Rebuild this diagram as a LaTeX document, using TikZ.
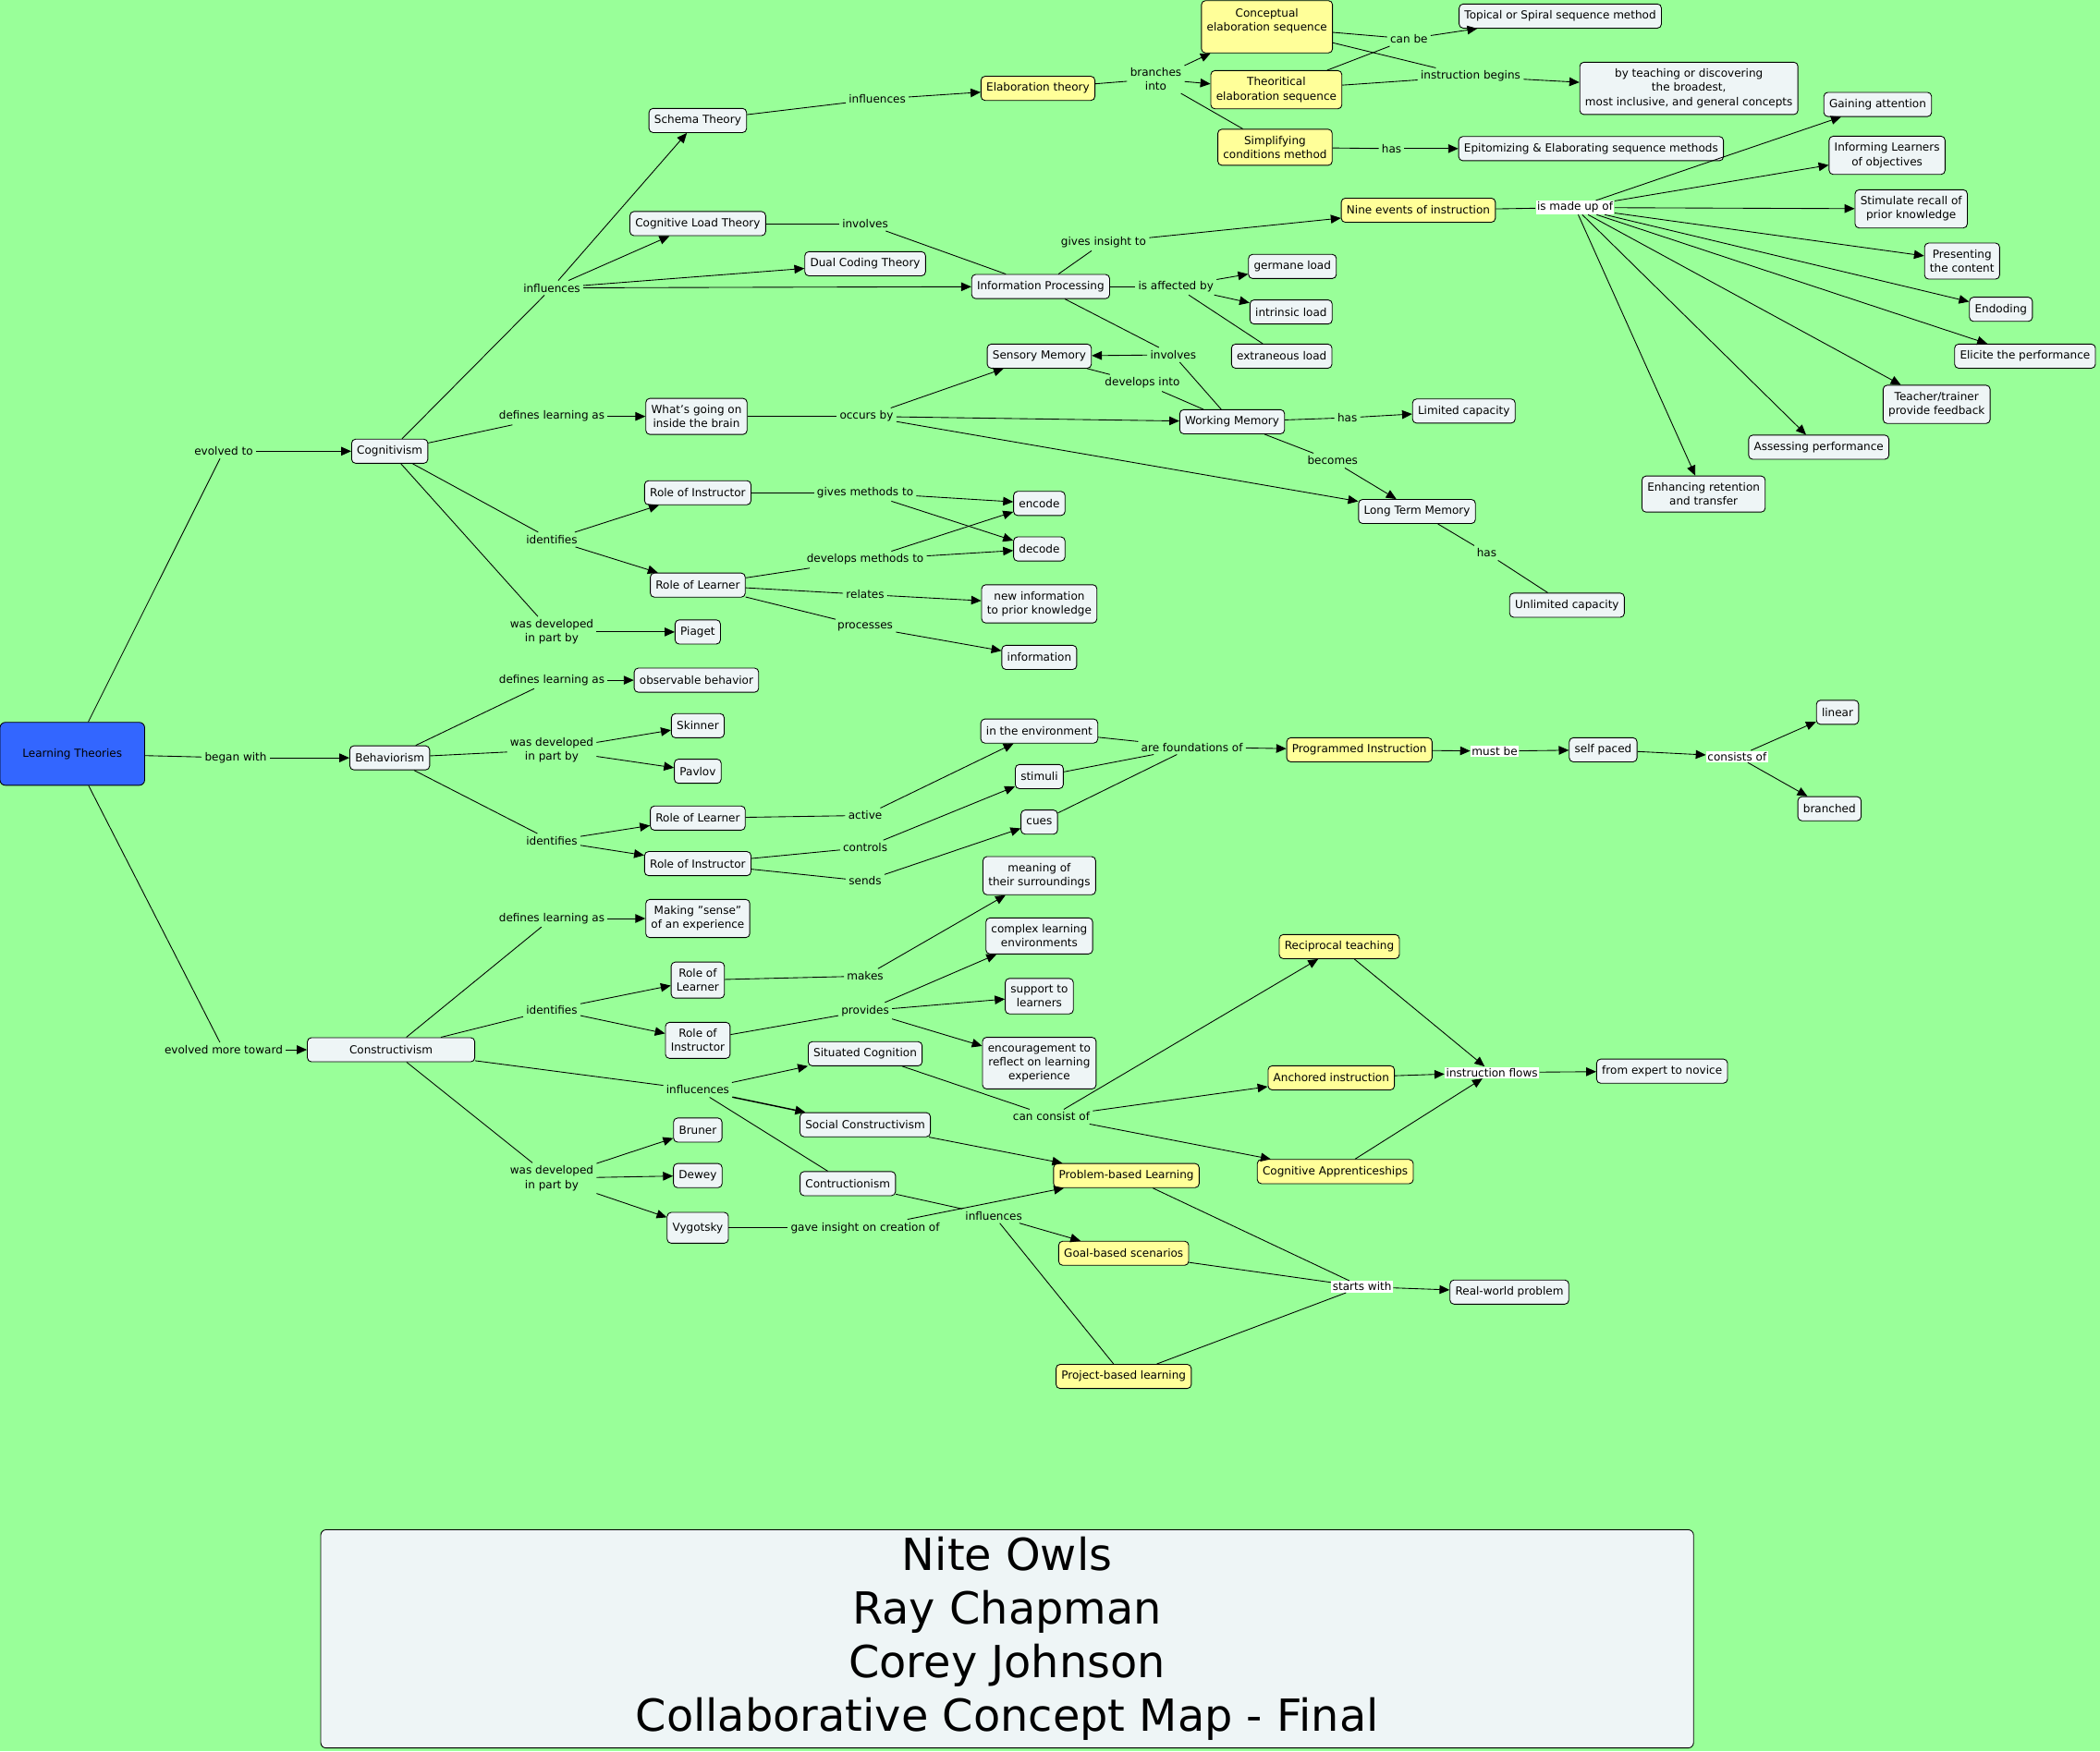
\documentclass[tikz,border=0pt]{standalone}
\usepackage{fontspec}
\setmainfont{DejaVu Sans}
\usetikzlibrary{arrows.meta}
\definecolor{cmapgreen}{RGB}{153,255,153}
\definecolor{cmapnode}{RGB}{238,245,246}
\definecolor{cmapyellow}{RGB}{255,255,153}
\definecolor{cmapblue}{RGB}{51,102,255}
\begin{document}
\begin{tikzpicture}[
    x=1pt, y=-1pt,
    line width=0.6pt,
    font=\fontsize{8.3}{10.5}\selectfont,
    concept/.style={rectangle, draw, rounded corners=3pt, fill=cmapnode, minimum height=18pt, inner xsep=4pt, inner ysep=5pt, align=center},
    keyconcept/.style={concept, fill=cmapyellow},
    phrase/.style={inner sep=2pt, align=center},
    whitephrase/.style={phrase, fill=white, inner sep=1pt},
    arrow/.style={-{Triangle[length=7.5pt, width=6.5pt]}}
]
    % Canvas
    \useasboundingbox (0,0) rectangle (1568,1308);
    \fill[cmapgreen] (0,0) rectangle (1568,1308);

    % Root and the three branches
    \node[concept, fill=cmapblue, minimum width=108pt, minimum height=47pt, rounded corners=4pt] (lt) at (54,563) {Learning Theories};
    \node[concept] (cog) at (291,337) {Cognitivism};
    \node[concept] (beh) at (291,566) {Behaviorism};
    \node[concept, minimum width=125pt] (con) at (292,784) {Constructivism};
    \node[phrase] (evto) at (167,337) {evolved to};
    \node[phrase] (began) at (176,566) {began with};
    \node[phrase] (evmore) at (167,784) {evolved more toward};

    % Cognitivism: theories
    \node[concept] (schema) at (521,90) {Schema Theory};
    \node[concept] (clt) at (521,167) {Cognitive Load Theory};
    \node[concept] (dual) at (646,197) {Dual Coding Theory};
    \node[concept] (infop) at (777,214) {Information Processing};
    \node[phrase] (cinfl) at (412,215) {influences};
    \node[phrase] (sinfl) at (655,74) {influences};
    \node[phrase] (cinv) at (646,167) {involves};

    % Elaboration theory
    \node[keyconcept] (elab) at (775,66) {Elaboration theory};
    \node[keyconcept, minimum height=39pt] (concseq) at (946,20) {Conceptual\\elaboration sequence\\~};
    \node[keyconcept] (theoseq) at (953,67) {Theoritical\\elaboration sequence};
    \node[keyconcept] (simpl) at (952,110) {Simplifying\\conditions method};
    \node[concept] (topical) at (1165,12) {Topical or Spiral sequence method};
    \node[concept] (broad) at (1261,66) {by teaching or discovering\\the broadest,\\most inclusive, and general concepts};
    \node[concept] (epit) at (1188,111) {Epitomizing \& Elaborating sequence methods};
    \node[phrase] (branch) at (863,59) {branches\\into};
    \node[phrase] (canbe) at (1052,29) {can be};
    \node[phrase] (begins) at (1098,57) {instruction begins};
    \node[phrase] (shas) at (1039,111) {has};

    % Nine events of instruction
    \node[keyconcept] (nine) at (1059,157) {Nine events of instruction};
    \node[whitephrase] (madeup) at (1176,155) {is made up of};
    \node[concept] (ev1) at (1402,78) {Gaining attention};
    \node[concept] (ev2) at (1409,116) {Informing Learners\\of objectives};
    \node[concept] (ev3) at (1427,156) {Stimulate recall of\\prior knowledge};
    \node[concept] (ev4) at (1465,195) {Presenting\\the content};
    \node[concept] (ev5) at (1494,231) {Endoding};
    \node[concept] (ev6) at (1512,266) {Elicite the performance};
    \node[concept] (ev7) at (1446,302) {Teacher/trainer\\provide feedback};
    \node[concept] (ev8) at (1358,334) {Assessing performance};
    \node[concept] (ev9) at (1272,369) {Enhancing retention\\and transfer};
    \node[phrase] (insight) at (824,181) {gives insight to};

    % Cognitive load and memory
    \node[concept] (germane) at (965,199) {germane load};
    \node[concept] (intrinsic) at (964,233) {intrinsic load};
    \node[concept] (extran) at (957,266) {extraneous load};
    \node[phrase] (affect) at (878,214) {is affected by};
    \node[concept] (brain) at (520,311) {What's going on\\inside the brain};
    \node[concept] (sensory) at (776,266) {Sensory Memory};
    \node[concept] (wm) at (920,315) {Working Memory};
    \node[concept] (limited) at (1093,307) {Limited capacity};
    \node[concept] (ltm) at (1058,382) {Long Term Memory};
    \node[concept] (unlimited) at (1170,452) {Unlimited capacity};
    \node[phrase] (cdef) at (412,311) {defines learning as};
    \node[phrase] (occurs) at (647,311) {occurs by};
    \node[phrase] (minv) at (876,265) {involves};
    \node[phrase] (devinto) at (853,286) {develops into};
    \node[phrase] (whas) at (1006,312) {has};
    \node[phrase] (becomes) at (995,344) {becomes};
    \node[phrase] (lhas) at (1110,413) {has};

    % Cognitivism: roles
    \node[phrase] (cident) at (412,403) {identifies};
    \node[phrase] (cdev) at (412,472) {was developed\\in part by};
    \node[concept] (cinstr) at (521,368) {Role of Instructor};
    \node[concept] (clearn) at (521,437) {Role of Learner};
    \node[concept] (piaget) at (521,472) {Piaget};
    \node[concept] (encode) at (776,376) {encode};
    \node[concept] (decode) at (776,410) {decode};
    \node[concept] (newinfo) at (776,451) {new information\\to prior knowledge};
    \node[concept] (info) at (776,491) {information};
    \node[phrase] (gives) at (646,368) {gives methods to};
    \node[phrase] (develops) at (646,418) {develops methods to};
    \node[phrase] (relates) at (646,444) {relates};
    \node[phrase] (processes) at (646,468) {processes};

    % Behaviorism
    \node[phrase] (bdef) at (412,508) {defines learning as};
    \node[phrase] (bdev) at (412,560) {was developed\\in part by};
    \node[phrase] (bident) at (412,628) {identifies};
    \node[concept] (observ) at (520,508) {observable behavior};
    \node[concept] (skinner) at (521,542) {Skinner};
    \node[concept] (pavlov) at (521,576) {Pavlov};
    \node[concept] (blearn) at (521,611) {Role of Learner};
    \node[concept] (binstr) at (521,645) {Role of Instructor};
    \node[phrase] (active) at (646,609) {active};
    \node[phrase] (controls) at (646,633) {controls};
    \node[phrase] (sends) at (646,658) {sends};
    \node[concept] (env) at (776,546) {in the environment};
    \node[concept] (stimuli) at (776,580) {stimuli};
    \node[concept] (cues) at (776,614) {cues};
    \node[phrase] (found) at (890,558) {are foundations of};
    \node[keyconcept] (prog) at (1015,560) {Programmed Instruction};
    \node[whitephrase] (mustbe) at (1116,561) {must be};
    \node[concept] (selfp) at (1197,560) {self paced};
    \node[whitephrase] (consists) at (1297,565) {consists of};
    \node[concept] (linear) at (1372,532) {linear};
    \node[concept] (branched) at (1366,604) {branched};

    % Constructivism
    \node[phrase] (kdef) at (412,686) {defines learning as};
    \node[phrase] (kident) at (412,754) {identifies};
    \node[phrase] (kinfl) at (521,814) {influcences};
    \node[phrase] (kdev) at (412,880) {was developed\\in part by};
    \node[concept] (sense) at (521,686) {Making "sense"\\of an experience};
    \node[concept] (klearn) at (521,732) {Role of\\Learner};
    \node[concept] (kinstr) at (521,777) {Role of\\Instructor};
    \node[phrase] (makes) at (646,729) {makes};
    \node[phrase] (provides) at (646,755) {provides};
    \node[concept] (meaning) at (776,654) {meaning of\\their surroundings};
    \node[concept] (complex) at (776,699) {complex learning\\environments};
    \node[concept] (support) at (776,744) {support to\\learners};
    \node[concept] (encour) at (776,794) {encouragement to\\reflect on learning\\experience};
    \node[concept] (situated) at (646,787) {Situated Cognition};
    \node[concept] (social) at (646,840) {Social Constructivism};
    \node[concept] (contr) at (633,884) {Contructionism};
    \node[concept] (bruner) at (521,844) {Bruner};
    \node[concept] (dewey) at (521,878) {Dewey};
    \node[concept, minimum height=23pt] (vygotsky) at (521,917) {Vygotsky};
    \node[phrase] (consist) at (785,834) {can consist of};
    \node[keyconcept] (recip) at (1000,707) {Reciprocal teaching};
    \node[keyconcept] (anchored) at (994,805) {Anchored instruction};
    \node[keyconcept] (apprent) at (997,875) {Cognitive Apprenticeships};
    \node[whitephrase] (flows) at (1114,801) {instruction flows};
    \node[concept] (expert) at (1241,800) {from expert to novice};
    \node[phrase] (gave) at (646,917) {gave insight on creation of};
    \node[phrase] (kinfl2) at (742,908) {influences};
    \node[keyconcept] (pbl) at (841,878) {Problem-based Learning};
    \node[keyconcept] (goal) at (839,936) {Goal-based scenarios};
    \node[keyconcept] (project) at (839,1028) {Project-based learning};
    \node[whitephrase] (starts) at (1017,961) {starts with};
    \node[concept] (real) at (1127,965) {Real-world problem};

    % Root links
    \draw (lt) -- (evto);
    \draw[arrow] (evto) -- (cog);
    \draw (lt) -- (began);
    \draw[arrow] (began) -- (beh);
    \draw (lt) -- (evmore);
    \draw[arrow] (evmore) -- (con);

    % Cognitivism links
    \draw (cog) -- (cinfl);
    \draw[arrow] (cinfl) -- (schema);
    \draw[arrow] (cinfl) -- (clt);
    \draw[arrow] (cinfl) -- (dual);
    \draw[arrow] (cinfl) -- (infop);
    \draw (schema) -- (sinfl);
    \draw[arrow] (sinfl) -- (elab);
    \draw (clt) -- (cinv);
    \draw (cinv) -- (infop);
    \draw (elab) -- (branch);
    \draw[arrow] (branch) -- (concseq);
    \draw[arrow] (branch) -- (theoseq);
    \draw (branch) -- (simpl);
    \draw (concseq) -- (canbe);
    \draw (theoseq) -- (canbe);
    \draw[arrow] (canbe) -- (topical);
    \draw (concseq) -- (begins);
    \draw (theoseq) -- (begins);
    \draw[arrow] (begins) -- (broad);
    \draw (simpl) -- (shas);
    \draw[arrow] (shas) -- (epit);
    \draw (infop) -- (insight);
    \draw[arrow] (insight) -- (nine);
    \draw (nine) -- (madeup);
    \draw[arrow] (madeup) -- (ev1);
    \draw[arrow] (madeup) -- (ev2);
    \draw[arrow] (madeup) -- (ev3);
    \draw[arrow] (madeup) -- (ev4);
    \draw[arrow] (madeup) -- (ev5);
    \draw[arrow] (madeup) -- (ev6);
    \draw[arrow] (madeup) -- (ev7);
    \draw[arrow] (madeup) -- (ev8);
    \draw[arrow] (madeup) -- (ev9);
    \draw (infop) -- (affect);
    \draw[arrow] (affect) -- (germane);
    \draw[arrow] (affect) -- (intrinsic);
    \draw (affect) -- (extran);
    \draw (infop) -- (minv);
    \draw[arrow] (minv) -- (sensory);
    \draw (minv) -- (wm);
    \draw (sensory) -- (devinto);
    \draw (devinto) -- (wm);
    \draw (cog) -- (cdef);
    \draw[arrow] (cdef) -- (brain);
    \draw (brain) -- (occurs);
    \draw[arrow] (occurs) -- (sensory);
    \draw[arrow] (occurs) -- (wm);
    \draw[arrow] (occurs) -- (ltm);
    \draw (wm) -- (whas);
    \draw[arrow] (whas) -- (limited);
    \draw (wm) -- (becomes);
    \draw[arrow] (becomes) -- (ltm);
    \draw (ltm) -- (lhas);
    \draw (lhas) -- (unlimited);
    \draw (cog) -- (cident);
    \draw[arrow] (cident) -- (cinstr);
    \draw[arrow] (cident) -- (clearn);
    \draw (cog) -- (cdev);
    \draw[arrow] (cdev) -- (piaget);
    \draw (cinstr) -- (gives);
    \draw[arrow] (gives) -- (encode);
    \draw[arrow] (gives) -- (decode);
    \draw (clearn) -- (develops);
    \draw[arrow] (develops) -- (encode);
    \draw[arrow] (develops) -- (decode);
    \draw (clearn) -- (relates);
    \draw[arrow] (relates) -- (newinfo);
    \draw (clearn) -- (processes);
    \draw[arrow] (processes) -- (info);

    % Behaviorism links
    \draw (beh) -- (bdef);
    \draw[arrow] (bdef) -- (observ);
    \draw (beh) -- (bdev);
    \draw[arrow] (bdev) -- (skinner);
    \draw[arrow] (bdev) -- (pavlov);
    \draw (beh) -- (bident);
    \draw[arrow] (bident) -- (blearn);
    \draw[arrow] (bident) -- (binstr);
    \draw (blearn) -- (active);
    \draw[arrow] (active) -- (env);
    \draw (binstr) -- (controls);
    \draw[arrow] (controls) -- (stimuli);
    \draw (binstr) -- (sends);
    \draw[arrow] (sends) -- (cues);
    \draw (env) -- (found);
    \draw (stimuli) -- (found);
    \draw (cues) -- (found);
    \draw[arrow] (found) -- (prog);
    \draw[arrow] (prog) -- (mustbe);
    \draw[arrow] (mustbe) -- (selfp);
    \draw[arrow] (selfp) -- (consists);
    \draw[arrow] (consists) -- (linear);
    \draw[arrow] (consists) -- (branched);

    % Constructivism links
    \draw (con) -- (kdef);
    \draw[arrow] (kdef) -- (sense);
    \draw (con) -- (kident);
    \draw[arrow] (kident) -- (klearn);
    \draw[arrow] (kident) -- (kinstr);
    \draw (klearn) -- (makes);
    \draw[arrow] (makes) -- (meaning);
    \draw (kinstr) -- (provides);
    \draw[arrow] (provides) -- (complex);
    \draw[arrow] (provides) -- (support);
    \draw[arrow] (provides) -- (encour);
    \draw (con) -- (kinfl);
    \draw[arrow] (kinfl) -- (situated);
    \draw[arrow, line width=1pt] (kinfl) -- (social);
    \draw (kinfl) -- (contr);
    \draw (con) -- (kdev);
    \draw[arrow] (kdev) -- (bruner);
    \draw[arrow] (kdev) -- (dewey);
    \draw[arrow] (kdev) -- (vygotsky);
    \draw (situated) -- (consist);
    \draw[arrow] (consist) -- (recip);
    \draw[arrow] (consist) -- (anchored);
    \draw[arrow] (consist) -- (apprent);
    \draw[arrow] (recip) -- (flows);
    \draw[arrow] (anchored) -- (flows);
    \draw[arrow] (apprent) -- (flows);
    \draw[arrow] (flows) -- (expert);
    \draw[arrow] (social) -- (pbl);
    \draw (vygotsky) -- (gave);
    \draw[arrow] (gave) -- (pbl);
    \draw (contr) -- (kinfl2);
    \draw[arrow] (kinfl2) -- (goal);
    \draw (kinfl2) -- (project);
    \draw (pbl) -- (starts);
    \draw (goal) -- (starts);
    \draw (project) -- (starts);
    \draw[arrow] (starts) -- (real);

    % Title
    \node[concept, rounded corners=4pt, minimum width=1025pt, minimum height=163pt, font=\fontsize{33}{40}\selectfont] (title) at (752,1224) {Nite Owls\\Ray Chapman\\Corey Johnson\\Collaborative Concept Map - Final};
\end{tikzpicture}
\end{document}
